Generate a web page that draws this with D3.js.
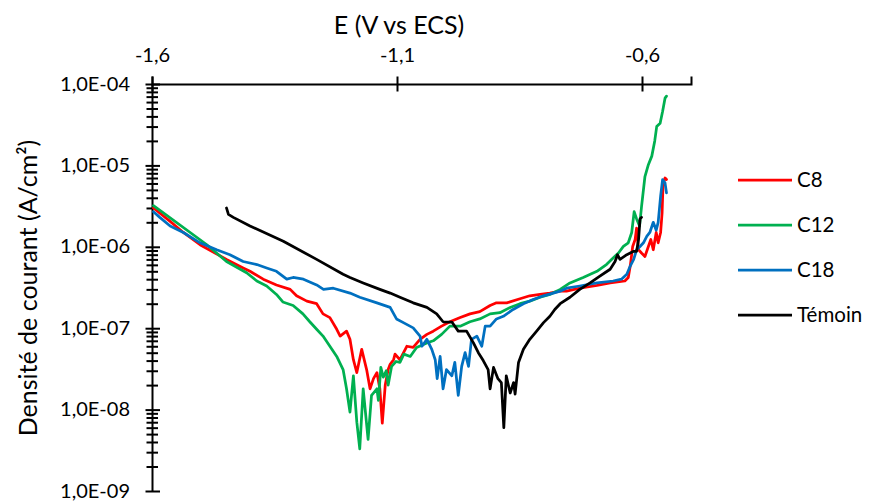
<!DOCTYPE html>
<html><head><meta charset="utf-8">
<script src="https://cdn.jsdelivr.net/npm/d3@7"></script>
<style>body{margin:0;background:#fff} text{font-family:Lato, "Open Sans", sans-serif; fill:#000}</style>
</head><body><svg id="chart" width="870" height="502"></svg>
<script>
const xTicks = [-1.6, -1.1, -0.6];
const xTickLabels = ["-1,6", "-1,1", "-0,6"];
const yTicks = [1e-4, 1e-5, 1e-6, 1e-7, 1e-8, 1e-9];
const yTickLabels = ["1,0E-04", "1,0E-05", "1,0E-06", "1,0E-07", "1,0E-08", "1,0E-09"];
const xTitle = "E (V vs ECS)";
const yTitle = "Densité de courant (A/cm²)";
const seriesNames = ["C8", "C12", "C18", "Témoin"];
const seriesColors = ["#FF0000", "#00B050", "#0070C0", "#000000"];

const c8E = [-1.597,-1.563,-1.536,-1.502,-1.448,-1.414,-1.400,-1.373,-1.346,-1.318,-1.305,-1.284,-1.264,-1.251,-1.237,-1.223,-1.216,-1.203,-1.196,-1.189,-1.182,-1.172,-1.162,-1.155,-1.148,-1.141,-1.135,-1.130,-1.124,-1.118,-1.114,-1.107,-1.104,-1.094,-1.080,-1.067,-1.053,-1.039,-1.026,-1.009,-0.992,-0.971,-0.951,-0.931,-0.910,-0.897,-0.876,-0.849,-0.829,-0.808,-0.788,-0.767,-0.754,-0.727,-0.692,-0.665,-0.635,-0.628,-0.624,-0.619,-0.614,-0.611,-0.607,-0.601,-0.594,-0.587,-0.582,-0.577,-0.571,-0.567,-0.562,-0.559,-0.557,-0.553,-0.550];
const c8I = [3.0e-6,2.05e-6,1.5e-6,1.06e-6,7.0e-7,5.5e-7,5.0e-7,4.0e-7,3.4e-7,3.0e-7,2.5e-7,2.15e-7,2.0e-7,1.5e-7,1.35e-7,9.7e-8,8.0e-8,9.2e-8,7.3e-8,4.1e-8,2.85e-8,5.5e-8,3.1e-8,1.8e-8,2.4e-8,2.85e-8,1.8e-8,6.8e-9,2.0e-8,3.1e-8,3.6e-8,4.1e-8,4.8e-8,4.1e-8,6.0e-8,5.8e-8,7.3e-8,8.4e-8,9.2e-8,1.06e-7,1.2e-7,1.35e-7,1.5e-7,1.6e-7,1.9e-7,2.05e-7,2.05e-7,2.3e-7,2.5e-7,2.6e-7,2.7e-7,2.85e-7,2.85e-7,3.1e-7,3.35e-7,3.6e-7,3.8e-7,4.2e-7,5.8e-7,1.01e-6,1.23e-6,1.7e-6,9.2e-7,8.4e-7,7.6e-7,1.01e-6,1.23e-6,9.2e-7,1.5e-6,1.12e-6,1.5e-6,2.6e-6,6.1e-6,7.0e-6,6.7e-6];

const c12E = [-1.597,-1.488,-1.448,-1.407,-1.386,-1.366,-1.346,-1.333,-1.312,-1.292,-1.278,-1.264,-1.251,-1.237,-1.223,-1.210,-1.203,-1.196,-1.189,-1.182,-1.176,-1.169,-1.159,-1.152,-1.141,-1.138,-1.133,-1.128,-1.122,-1.118,-1.111,-1.102,-1.094,-1.086,-1.073,-1.060,-1.039,-1.026,-1.009,-0.992,-0.971,-0.951,-0.931,-0.910,-0.890,-0.869,-0.849,-0.829,-0.808,-0.788,-0.767,-0.747,-0.720,-0.692,-0.672,-0.659,-0.648,-0.638,-0.628,-0.621,-0.616,-0.611,-0.605,-0.601,-0.594,-0.587,-0.580,-0.574,-0.570,-0.563,-0.558,-0.553,-0.550];
const c12I = [3.2e-6,1.06e-6,6.6e-7,4.8e-7,3.8e-7,3.3e-7,2.6e-7,2.1e-7,1.9e-7,1.5e-7,1.2e-7,9.7e-8,8.0e-8,6.0e-8,4.5e-8,3.1e-8,1.8e-8,9.3e-9,2.6e-8,7.0e-9,3.3e-9,1.8e-8,4.3e-9,1.5e-8,1.8e-8,1.3e-8,3.3e-8,2.5e-8,3.0e-8,2.0e-8,3.4e-8,3.9e-8,3.8e-8,4.8e-8,4.5e-8,5.8e-8,6.6e-8,7.0e-8,8.4e-8,1.06e-7,1.06e-7,1.2e-7,1.3e-7,1.5e-7,1.55e-7,1.8e-7,2.0e-7,2.15e-7,2.4e-7,2.6e-7,3.0e-7,3.6e-7,4.2e-7,5.0e-7,6.1e-7,7.3e-7,8.4e-7,1.01e-6,1.12e-6,1.5e-6,2.7e-6,2.2e-6,1.8e-6,3.1e-6,7.3e-6,1.02e-5,1.3e-5,2.0e-5,3.0e-5,3.3e-5,4.6e-5,6.7e-5,7.1e-5];

const c18E = [-1.597,-1.584,-1.563,-1.536,-1.502,-1.468,-1.441,-1.414,-1.386,-1.366,-1.346,-1.325,-1.312,-1.291,-1.264,-1.250,-1.230,-1.196,-1.176,-1.141,-1.114,-1.101,-1.087,-1.067,-1.053,-1.049,-1.039,-1.029,-1.022,-1.018,-1.012,-1.006,-0.999,-0.988,-0.982,-0.975,-0.968,-0.961,-0.954,-0.948,-0.937,-0.927,-0.920,-0.910,-0.897,-0.883,-0.863,-0.842,-0.822,-0.801,-0.781,-0.767,-0.754,-0.727,-0.692,-0.659,-0.642,-0.631,-0.624,-0.617,-0.611,-0.604,-0.597,-0.590,-0.584,-0.577,-0.571,-0.567,-0.562,-0.558,-0.553,-0.550];
const c18I = [2.7e-6,2.3e-6,1.8e-6,1.5e-6,1.12e-6,9.2e-7,8.0e-7,6.6e-7,6.05e-7,5.5e-7,5.0e-7,4.0e-7,4.2e-7,4.0e-7,3.4e-7,3.0e-7,3.1e-7,2.7e-7,2.4e-7,2.05e-7,1.8e-7,1.3e-7,1.17e-7,1.01e-7,8.0e-8,6.0e-8,7.3e-8,5.5e-8,4.1e-8,2.4e-8,4.5e-8,1.8e-8,3.1e-8,2.6e-8,3.8e-8,1.5e-8,3.4e-8,5.0e-8,3.4e-8,7.3e-8,8.0e-8,6.0e-8,1.06e-7,1.06e-7,1.3e-7,1.4e-7,1.7e-7,2.0e-7,2.25e-7,2.5e-7,2.7e-7,2.85e-7,3.1e-7,3.3e-7,3.6e-7,3.8e-7,4.0e-7,4.6e-7,5.8e-7,7.0e-7,9.2e-7,1.01e-6,1.12e-6,1.35e-6,1.5e-6,2.0e-6,1.6e-6,2.0e-6,4.2e-6,6.7e-6,6.1e-6,4.6e-6];

const temoinE = [-1.448,-1.444,-1.434,-1.400,-1.332,-1.264,-1.210,-1.196,-1.169,-1.135,-1.114,-1.094,-1.067,-1.039,-1.019,-1.006,-0.988,-0.975,-0.958,-0.944,-0.934,-0.924,-0.914,-0.910,-0.903,-0.894,-0.887,-0.882,-0.877,-0.869,-0.862,-0.859,-0.852,-0.842,-0.829,-0.815,-0.801,-0.788,-0.778,-0.767,-0.747,-0.727,-0.706,-0.686,-0.665,-0.655,-0.650,-0.645,-0.631,-0.617,-0.611,-0.607,-0.604,-0.601];
const temoinI = [3.0e-6,2.5e-6,2.3e-6,1.8e-6,1.17e-6,7.0e-7,4.6e-7,4.2e-7,3.6e-7,3.0e-7,2.7e-7,2.4e-7,2.05e-7,1.8e-7,1.5e-7,1.2e-7,1.19e-7,9.2e-8,9.2e-8,6.6e-8,5.0e-8,4.0e-8,3.1e-8,1.8e-8,3.3e-8,2.4e-8,2.15e-8,6.0e-9,2.6e-8,1.6e-8,2.15e-8,1.55e-8,3.8e-8,5.5e-8,7.3e-8,9.2e-8,1.17e-7,1.4e-7,1.7e-7,2.0e-7,2.4e-7,3.0e-7,3.6e-7,4.35e-7,5.3e-7,6.6e-7,8.0e-7,7.0e-7,8.0e-7,8.8e-7,8.8e-7,1.23e-6,2.2e-6,2.3e-6];

const seriesE = [c8E, c12E, c18E, temoinE];
const seriesI = [c8I, c12I, c18I, temoinI];

const svg = d3.select("#chart");
const x = d3.scaleLinear().domain([-1.6, -0.5]).range([152, 691]);
const y = d3.scaleLog().domain([1e-9, 1e-4]).range([491, 84]);

// Top X axis
const xAxis = d3.axisTop(x).tickValues(xTicks)
  .tickFormat((d, i) => xTickLabels[i]).tickSizeOuter(0).tickSize(7.5);
const gx = svg.append("g").attr("transform", `translate(0,${y(1e-4)})`).call(xAxis);
gx.select(".domain").attr("stroke", "#000").attr("stroke-width", 2);
gx.selectAll(".tick line").attr("y1", -7.5).attr("y2", 7.5).attr("stroke", "#000").attr("stroke-width", 2);
gx.selectAll(".tick text").attr("y", -22).attr("dy", 0)
  .style("font-family", "Lato, sans-serif").style("font-size", "20px");

// Left Y axis (log) with minor ticks
const minor = [];
for (let e = -9; e < -4; e++) for (let m = 2; m <= 9; m++) minor.push(m * Math.pow(10, e));
const gyMinor = svg.append("g").attr("transform", `translate(${x(-1.6)},0)`)
  .call(d3.axisLeft(y).tickValues(minor).tickFormat("").tickSizeOuter(0));
gyMinor.select(".domain").remove();
gyMinor.selectAll(".tick line").attr("x1", -5.5).attr("x2", 6).attr("stroke", "#000").attr("stroke-width", 2);

const yAxis = d3.axisLeft(y).tickValues(yTicks)
  .tickFormat((d, i) => yTickLabels[i]).tickSizeOuter(0);
const gy = svg.append("g").attr("transform", `translate(${x(-1.6)},0)`).call(yAxis);
gy.select(".domain").attr("stroke", "#000").attr("stroke-width", 2);
gy.selectAll(".tick line").attr("x1", -6.5).attr("x2", 8).attr("stroke", "#000").attr("stroke-width", 2);
gy.selectAll(".tick text").attr("x", -22).attr("dy", "0.3em")
  .style("font-family", "Lato, sans-serif").style("font-size", "20px");

// Series
const line = d3.line().x(d => x(d[0])).y(d => y(d[1]));
seriesE.forEach((es, k) => {
  const pts = es.map((e, i) => [e, seriesI[k][i]]).filter(p => p[1] !== undefined);
  svg.append("path").datum(pts)
    .attr("fill", "none").attr("stroke", seriesColors[k])
    .attr("stroke-width", 2.75).attr("stroke-linejoin", "round").attr("stroke-linecap", "round")
    .attr("d", line);
});

// Titles
svg.append("text").attr("x", 399).attr("y", 34).attr("text-anchor", "middle")
  .style("font-size", "25px").text(xTitle);
svg.append("text").attr("transform", "translate(37,288) rotate(-90)").attr("text-anchor", "middle")
  .style("font-size", "25px").text(yTitle);

// Legend
const legendY = d3.scalePoint().domain(seriesNames).range([180, 315]);
const lg = svg.append("g");
seriesNames.forEach((n, k) => {
  lg.append("line").attr("x1", 738).attr("x2", 792)
    .attr("y1", legendY(n)).attr("y2", legendY(n))
    .attr("stroke", seriesColors[k]).attr("stroke-width", 2.75);
  lg.append("text").attr("x", 797).attr("y", legendY(n)).attr("dy", "0.36em")
    .style("font-size", "20.5px").text(n);
});
</script></body></html>
